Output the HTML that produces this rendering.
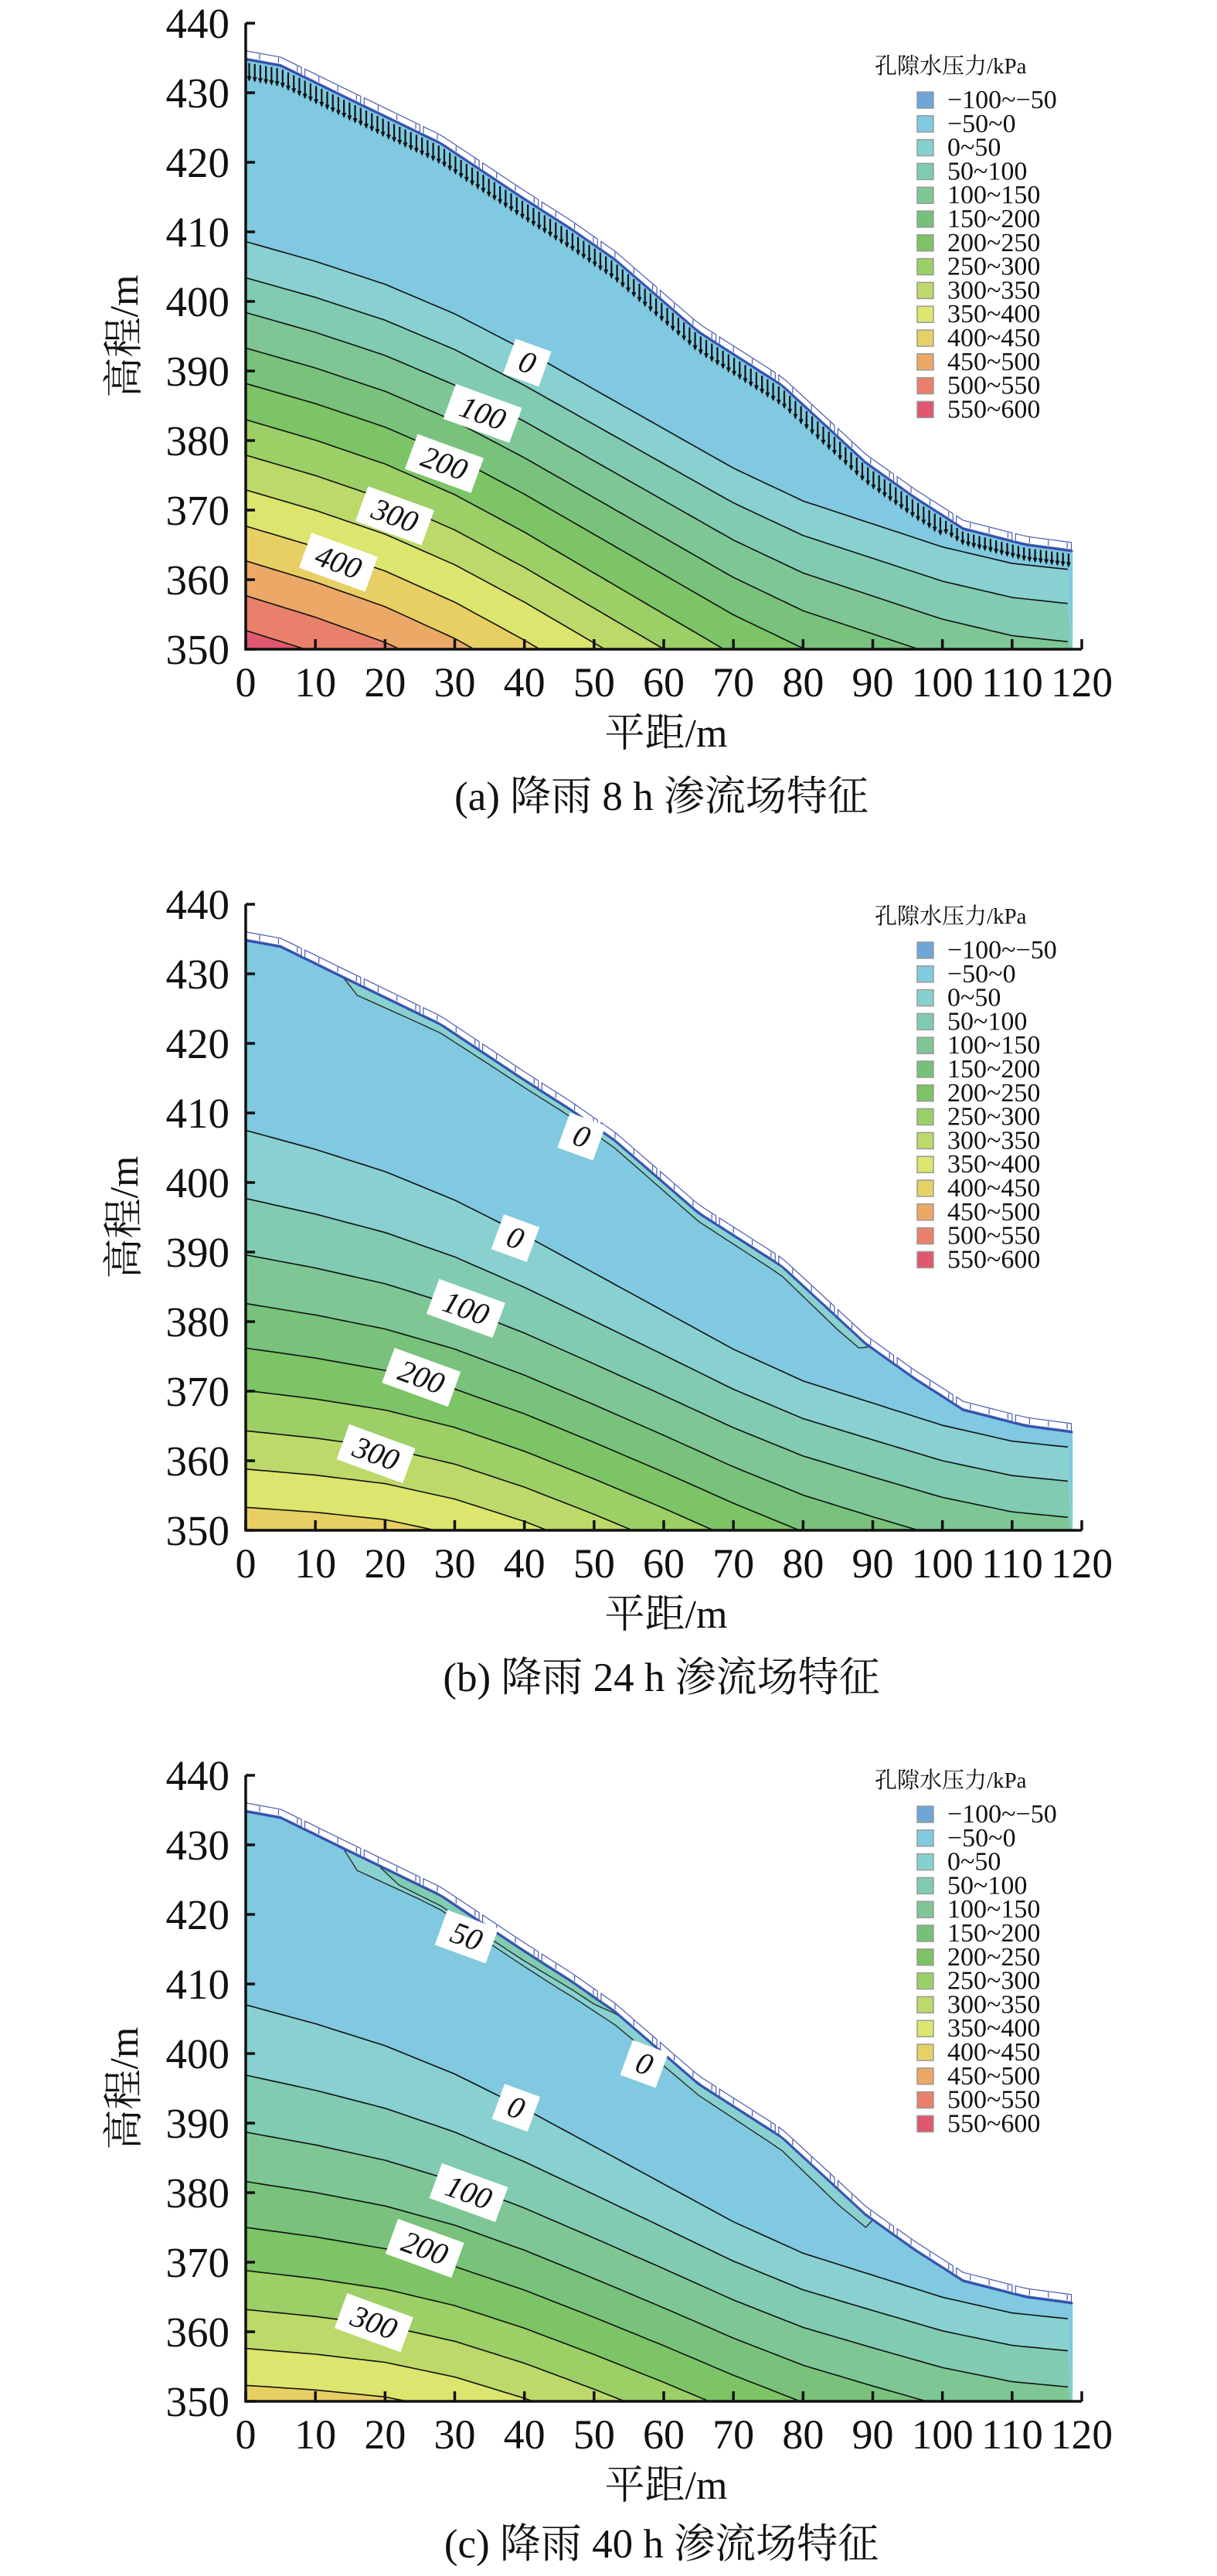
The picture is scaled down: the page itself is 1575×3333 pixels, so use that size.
<!DOCTYPE html>
<html><head><meta charset="utf-8"><style>
html,body{margin:0;padding:0;background:#fff;width:1575px;height:3333px;overflow:hidden;}
svg{display:block;overflow:hidden;}
text{font-family:"Liberation Serif","Noto Serif CJK SC",serif;fill:#111;}
</style></head><body>
<svg id="fig" width="1575" height="3333" viewBox="0 0 1575 3333" xmlns="http://www.w3.org/2000/svg"></svg>
<script>
// ---------- data ----------
const levels=[0,50,100,150,200,250,300,350,400,450,500,550];
const bandColors=['#88d1d0','#80cbb1','#7ec795','#78c27b','#7cc465','#9ccf66','#bdd96a','#dce56d','#e8cf64','#eca866','#e9806b','#e0586f'];
const negColor='#80c9e0';
const legendLabels=['\u2212100~\u221250','\u221250~0','0~50','50~100','100~150','150~200','200~250','250~300','300~350','350~400','400~450','450~500','500~550','550~600'];
const legendColors=['#6fa6d8','#7ecbe2','#86d1d0','#7fcbb0','#7ec794','#76c17a','#7bc364','#9bd067','#bcd96a','#dde66d','#e8d164','#eda866','#ea806a','#e2566f'];
const xTicks=[0,10,20,30,40,50,60,70,80,90,100,110,120];
const yTicks=[350,360,370,380,390,400,410,420,430,440];
const surfX=[0,5,15,28,40,47,53,65,77,89,96,103,112,118.7];
const surfY=[434.8,433.9,429,422.7,414.7,410.2,406,395.6,387.9,376.8,371.8,367.3,365,364.1];
const shapeX=[0,10,20,30,40,50,60,70,80,90,100,110,118.7];
const shapeTop=[0,0.06,0.13,0.22,0.33,0.45,0.57,0.69,0.79,0.86,0.93,0.98,1];
const shapeDeep=[0,0.02,0.05,0.11,0.2,0.31,0.43,0.56,0.69,0.8,0.9,0.97,1];
const aLeft=[408.6,403.4,398.4,393.3,388.2,383.0,377.9,372.9,367.7,362.7,357.7,352.7];
const aRight=[361.4,356.5,351,345.5,340,334,329,324,318,312,306,300];
const bLeft=[407.5,397.7,389.6,382.6,376.2,370.1,364.3,358.8,353.3,348,343,338];
const bRight=[361.9,357,351.8,346,340.5,335,329.5,324,318,312,306,300];
const cLeft=[407,396.9,388.7,381.6,375,368.8,363.2,357.6,352.3,347,342,337];
const cRight=[361.8,357.2,352,346.5,341,335.5,330,324.5,319,313,307,301];
const aLabText=['0','100','200','300','400'];
const aLabX=[40.4,34,28.5,21.4,13.3];
const aLabY=[391.2,383.9,376.7,369.2,362.5];
const bLabText=['0','0','100','200','300'];
const bLabX=[48.2,38.7,31.6,25.2,18.7];
const bLabY=[406.6,392,381.9,372,361];
const cLabText=['50','0','0','100','200','300'];
const cLabX=[31.7,57.2,38.8,32,25.7,18.4];
const cLabY=[416.8,398.5,392.2,380,372,361.3];
const bLensX=[14,16,25,35,45,55,65,75,85,88,89.5];
const bLensD=[0,1.6,1.3,1.1,1.0,1.1,1.2,1.3,1.7,1.5,0];
const cLensX=[14,16,25,35,45,55,65,75,85,89,90];
const cLensD=[0,2.2,2.0,2.2,2.2,1.8,1.6,1.8,2.2,1.8,0];
const cInnerX=[19,22,30,40,50,54];
const cInnerD=[0,1.4,1.5,1.4,1.0,0];

// ---------- helpers ----------
const NS='http://www.w3.org/2000/svg';
const svg=document.getElementById('fig');
function mk(tag,attrs,parent){const e=document.createElementNS(NS,tag);for(const k in attrs)e.setAttribute(k,attrs[k]);(parent||svg).appendChild(e);return e;}
function interp(ax,ay,x){if(x<=ax[0])return ay[0];for(let i=1;i<ax.length;i++){if(x<=ax[i]){const t=(x-ax[i-1])/(ax[i]-ax[i-1]);return ay[i-1]+t*(ay[i]-ay[i-1]);}}return ay[ay.length-1];}
const X0=318,X1=1400,XMAX=118.7;
function X(x){return X0+x*(X1-X0)/120;}
function surf(x){return interp(surfX,surfY,x);}

function panel(id,oy,left,right,deepBlend,labText,labX,labY,caption,opts){
  const Y=v=>oy+(440-v)*9;
  const g=mk('g',{});
  
  
  const clip=mk('clipPath',{id:'clip-'+id},g);
  let pts=[[X(0),Y(350)]];
  for(let x=0;x<=XMAX;x+=0.5)pts.push([X(x),Y(surf(x))]);
  pts.push([X(XMAX),Y(surf(XMAX))],[X(XMAX),Y(350)]);
  const ps=pts.map(p=>p[0].toFixed(1)+','+p[1].toFixed(1)).join(' ');
  mk('polygon',{points:ps},clip);
  const plot=mk('g',{'clip-path':'url(#clip-'+id+')'},g);
  
  
  const bg=mk('polygon',{points:ps,fill:negColor},plot);
  
  
  const curve=i=>{const w=Math.min(1,levels[i]/400)*deepBlend;const a=[];for(let x=0;x<=XMAX+0.01;x+=1){const s=(1-w)*interp(shapeX,shapeTop,x)+w*interp(shapeX,shapeDeep,x);a.push([X(x),Y(left[i]+(right[i]-left[i])*s)]);}return a;};
  const curves=levels.map((l,i)=>curve(i));
  curves.forEach((c,i)=>{
    const p=c.concat([[X(XMAX)+5,Y(340)],[X(0)-5,Y(340)]]);
    const b=mk('polygon',{points:p.map(q=>q[0].toFixed(1)+','+q[1].toFixed(1)).join(' '),fill:bandColors[i]},plot);
    
    
  });
  curves.forEach((c,i)=>{
    const l=mk('polyline',{points:c.map(q=>q[0].toFixed(1)+','+q[1].toFixed(1)).join(' '),fill:'none',stroke:'#111','stroke-width':1.6},plot);
    
    
  });
  (opts.lenses||[]).forEach(L=>{
    const top=[],bot=[];
    const x0=L.x[0],x1=L.x[L.x.length-1];
    for(let x=x0;x<=x1+0.01;x+=0.5){top.push([X(x),Y(surf(x)+0.3)]);bot.unshift([X(x),Y(surf(x)-interp(L.x,L.d,x))]);}
    const lp=mk('polygon',{points:top.concat(bot).map(q=>q[0].toFixed(1)+','+q[1].toFixed(1)).join(' '),fill:L.color,stroke:'#222','stroke-width':1.3},plot);
    
    
  });
  if(opts.arrows){
    const ag=mk('g',{stroke:'#111','stroke-width':2.2},plot);
    
    
    for(let x=0.5;x<XMAX;x+=0.8){
      const y0=Y(surf(x))+4,len=(x<100?22:16);
      mk('line',{x1:X(x),y1:y0,x2:X(x),y2:y0+len},ag);
      mk('polygon',{points:`${X(x)-3},${y0+len-5} ${X(x)+3},${y0+len-5} ${X(x)},${y0+len+2}`,fill:'#111',stroke:'none'},ag);
    }
  }
  const sl=mk('polyline',{points:pts.slice(1,-1).map(q=>q[0].toFixed(1)+','+q[1].toFixed(1)).join(' '),fill:'none',stroke:'#2f52b0','stroke-width':3},g);
  
  
  const bs=mk('g',{fill:'#fff',stroke:'#4a5cb0','stroke-width':1.2},g);
  
  
  for(let x=0;x<XMAX-1;x+=8.5){
    const xe=Math.min(x+8,XMAX);
    const a=[];for(let t=x;t<=xe+0.01;t+=1)a.push([X(t),Y(surf(t))-1.5]);
    const bt=[];for(let t=xe;t>=x-0.01;t-=1)bt.push([X(t),Y(surf(t))-11]);
    mk('polygon',{points:a.concat(bt).map(q=>q[0].toFixed(1)+','+q[1].toFixed(1)).join(' ')},bs);
    for(let t=x+2;t<xe;t+=2.7){mk('line',{x1:X(t),y1:Y(surf(t))-10,x2:X(t),y2:Y(surf(t))-3},bs);}
  }
  labText.forEach((t,i)=>{
    const cx=X(labX[i]),cy=Y(labY[i]);
    const lg=mk('g',{transform:`translate(${cx.toFixed(1)},${cy.toFixed(1)}) rotate(20)`},g);
    
    
    const w=t.length*21+28;
    mk('rect',{x:-w/2,y:-24,width:w,height:48,fill:'#fff'},lg);
    const tx=mk('text',{x:0,y:13,'text-anchor':'middle','font-size':40,'font-style':'italic'},lg);
    tx.textContent=t;
  });
  const B=Y(350),T=Y(440);
  const ax=mk('g',{stroke:'#111','stroke-width':3.5,fill:'none'},g);
  
  
  mk('path',{d:`M${X0},${T} L${X0},${B} L${X1},${B}`},ax);
  xTicks.forEach(v=>{mk('line',{x1:X(v),y1:B,x2:X(v),y2:B-13},ax);});
  yTicks.forEach(v=>{mk('line',{x1:X0,y1:Y(v),x2:X0+12,y2:Y(v)},ax);});
  xTicks.forEach(v=>{const t=mk('text',{x:X(v),y:B+61,'text-anchor':'middle','font-size':54,textLength:v>=100?80:(v>0?54:27),lengthAdjust:'spacingAndGlyphs'},g);t.textContent=v;
    
    });
  yTicks.forEach(v=>{const t=mk('text',{x:297,y:Y(v)+19,'text-anchor':'end','font-size':55},g);t.textContent=v;
    
    });
  const yt=mk('text',{x:0,y:0,transform:`translate(178,${(T+B)/2}) rotate(-90)`,'text-anchor':'middle','font-size':52},g);
  yt.textContent='高程/m';
  
  
  const xt=mk('text',{x:862,y:B+126,'text-anchor':'middle','font-size':52},g);
  xt.textContent='平距/m';
  
  
  const cp=mk('text',{x:856,y:B+opts.capOff,'text-anchor':'middle','font-size':53},g);
  cp.textContent=caption;
  
  
  const ly=opts.legendTop;
  const lg=mk('g',{},g);
  
  
  const lt=mk('text',{x:1132,y:ly+25,'font-size':29},lg);
  lt.textContent='孔隙水压力/kPa';
  legendLabels.forEach((s,i)=>{
    const yy=ly+49+i*30.8;
    const r=mk('rect',{x:1187,y:yy,width:21,height:21,fill:legendColors[i],stroke:'#999','stroke-width':1.5},lg);
    
    
    const t=mk('text',{x:1226,y:yy+21,'font-size':34},lg);
    t.textContent=s;
    
    
  });
}
panel('a',30,aLeft,aRight,0,aLabText,aLabX,aLabY,'(a) 降雨 8 h 渗流场特征',{arrows:true,legendTop:70,capOff:208});
panel('b',1170,bLeft,bRight,1,bLabText,bLabX,bLabY,'(b) 降雨 24 h 渗流场特征',{legendTop:1170,capOff:208,lenses:[{x:bLensX,d:bLensD,color:'#88d1d0'}]});
panel('c',2297,cLeft,cRight,1,cLabText,cLabX,cLabY,'(c) 降雨 40 h 渗流场特征',{legendTop:2288,capOff:202,lenses:[{x:cLensX,d:cLensD,color:'#88d1d0'},{x:cInnerX,d:cInnerD,color:'#80cbb1'}]});
</script>
</body></html>
